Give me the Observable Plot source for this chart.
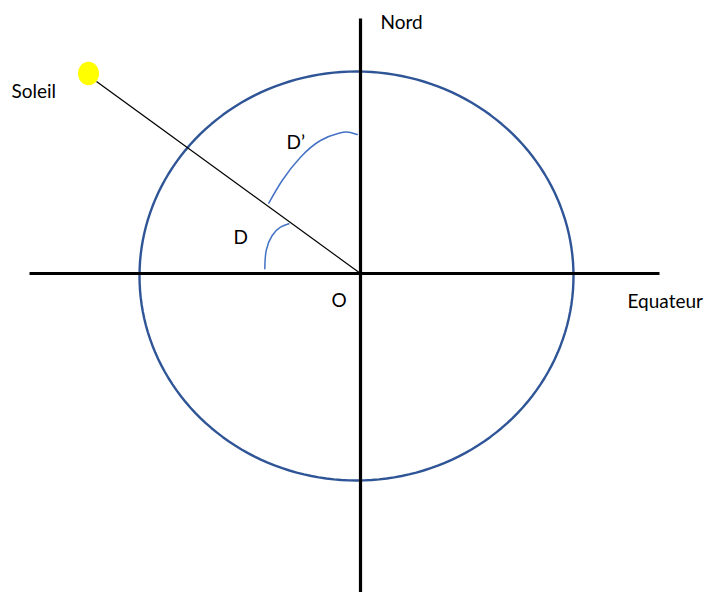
<!DOCTYPE html>
<html><head><meta charset="utf-8">
<script src="https://cdn.jsdelivr.net/npm/d3@7"></script>
<script src="https://cdn.jsdelivr.net/npm/@observablehq/plot@0.6"></script>
<style>body{margin:0;background:#fff}</style>
</head><body><div id="chart"></div>
<script>
// Diagram geometry in page pixel units (x right, y down)
const axisLines = [
  {name: "equateur", x1: 29, y1: 273, x2: 659, y2: 273},
  {name: "nord", x1: 360, y1: 18, x2: 360, y2: 592}
];
const ellipse = {cx: 356, cy: 275.5, rx: 217, ry: 204.5};
const sun = {x: 88, y: 73, rx: 10.5, ry: 11.7};
const sunRay = [{x1: 96, y1: 81, x2: 360, y2: 273}];
const arcD = [[264.3,268.3],[265.7,250],[271.7,235],[280,226.7],[288.3,223.3]];
const arcDprime = [[268.3,202.7],[281.7,180],[300,156.7],[320,140],[338.3,132.7],[348.3,131.7],[356.7,134]];
const labels = [
  {text: "Soleil", x: 11, y: 97},
  {text: "Nord", x: 380, y: 28},
  {text: "Equateur", x: 627, y: 307},
  {text: "D\u2019", x: 286, y: 148},
  {text: "D", x: 233, y: 243},
  {text: "O", x: 331, y: 306}
];

const steps = d3.range(0, 361, 2).map(a => a * Math.PI / 180);
const ellipsePts = steps.map(t => ({x: ellipse.cx + ellipse.rx * Math.cos(t), y: ellipse.cy + ellipse.ry * Math.sin(t)}));
const sunPts = steps.map(t => ({x: sun.x + sun.rx * Math.cos(t), y: sun.y + sun.ry * Math.sin(t)}));

const chart = Plot.plot({
  width: 708, height: 592,
  margin: 0,
  x: {domain: [0, 708], range: [0, 708], axis: null},
  y: {domain: [0, 592], range: [0, 592], axis: null},
  style: {fontFamily: "Lato, 'Open Sans', sans-serif", background: "#fff"},
  marks: [
    Plot.line(ellipsePts, {x: "x", y: "y", stroke: "#2F5597", strokeWidth: 2.4}),
    Plot.link(axisLines, {x1: "x1", y1: "y1", x2: "x2", y2: "y2", stroke: "#000", strokeWidth: 3.2}),
    Plot.link(sunRay, {x1: "x1", y1: "y1", x2: "x2", y2: "y2", stroke: "#000", strokeWidth: 1.2}),
    Plot.line(sunPts, {x: "x", y: "y", fill: "#FFFF00", stroke: "none"}),
    Plot.line(arcD, {x: d => d[0], y: d => d[1], curve: "natural", stroke: "#4472C4", strokeWidth: 1.5}),
    Plot.line(arcDprime, {x: d => d[0], y: d => d[1], curve: "natural", stroke: "#4472C4", strokeWidth: 1.5}),
    Plot.text(labels, {x: "x", y: "y", text: "text", textAnchor: "start", lineAnchor: "bottom", fontSize: 19, fill: "#000"})
  ]
});
document.getElementById("chart").appendChild(chart);
</script>
</body></html>
